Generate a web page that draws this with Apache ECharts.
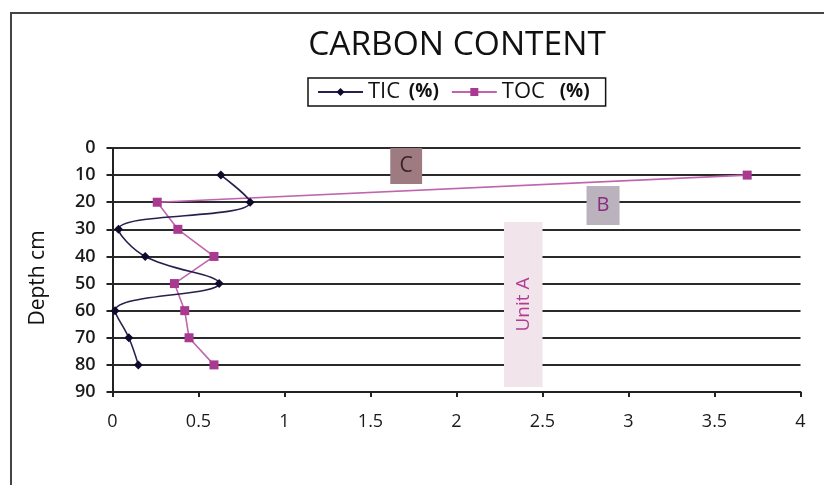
<!DOCTYPE html>
<html>
<head>
<meta charset="utf-8">
<script src="https://cdn.jsdelivr.net/npm/echarts@6/dist/echarts.min.js"></script>
<style>
html,body{margin:0;padding:0;background:#fff;}
#c{width:824px;height:485px;}
</style>
</head>
<body>
<div id="c"></div>
<script>
// Data
var depths = [10, 20, 30, 40, 50, 60, 70, 80];
var ticValues = [0.63, 0.80, 0.035, 0.19, 0.62, 0.015, 0.095, 0.15];
var tocValues = [3.69, 0.26, 0.38, 0.59, 0.36, 0.42, 0.445, 0.59];
var depthTicks = [0, 10, 20, 30, 40, 50, 60, 70, 80, 90];
var carbonTicks = [0, 0.5, 1, 1.5, 2, 2.5, 3, 3.5, 4];
var seriesNames = ['TIC (%)', 'TOC (%)'];

function pairs(vals) {
  return vals.map(function (v, i) { return [v, depths[i]]; });
}

var chart = echarts.init(document.getElementById('c'));
var font = '"Open Sans", "Noto Sans", sans-serif';

chart.setOption({
  animation: false,
  backgroundColor: '#fff',
  textStyle: { fontFamily: font },
  title: {
    text: 'CARBON CONTENT',
    left: 452,
    top: 23,
    textAlign: 'center',
    textStyle: { fontFamily: font, fontSize: 33.5, fontWeight: 'normal', color: '#111' }
  },
  legend: {
    data: seriesNames,
    left: 308,
    top: 78,
    padding: [3, 16, 3, 9],
    itemGap: 12,
    itemWidth: 45,
    itemHeight: 10,
    borderColor: '#111',
    borderWidth: 1.5,
    borderRadius: 0,
    formatter: function (name) {
      var parts = name.split(' ');
      return parts[0] + ' {' + (parts[0] === 'TOC' ? 'q' : 'p') + '|' + parts[1] + '}';
    },
    textStyle: {
      fontFamily: font, fontSize: 22, color: '#111',
      rich: {
        p: { fontFamily: font, fontSize: 19, fontWeight: 'bold', color: '#111', padding: [0, 0, 0, 3] },
        q: { fontFamily: font, fontSize: 19, fontWeight: 'bold', color: '#111', padding: [0, 0, 0, 9] }
      }
    }
  },
  grid: { left: 112.5, right: 23.5, top: 148, bottom: 93, containLabel: false },
  xAxis: {
    type: 'value',
    min: carbonTicks[0],
    max: carbonTicks[carbonTicks.length - 1],
    interval: 0.5,
    position: 'bottom',
    axisLine: { show: true, onZero: false, lineStyle: { color: '#222', width: 2 } },
    axisTick: { show: true, length: 5, lineStyle: { color: '#222', width: 2 } },
    axisLabel: { fontSize: 18, color: '#1a1a1a', margin: 21, fontFamily: font },
    splitLine: { show: false }
  },
  yAxis: {
    type: 'value',
    inverse: true,
    min: depthTicks[0],
    max: depthTicks[depthTicks.length - 1],
    interval: 10,
    name: 'Depth cm',
    nameLocation: 'middle',
    nameRotate: 90,
    nameGap: 64,
    nameTextStyle: { fontSize: 21, color: '#111', fontFamily: font, padding: [0, 16, 0, 0] },
    axisLine: { show: true, onZero: false, lineStyle: { color: '#222', width: 2 } },
    axisTick: { show: true, length: 6, lineStyle: { color: '#222', width: 2 } },
    axisLabel: { fontSize: 18, color: '#1a1a1a', margin: 17, fontWeight: 600, fontFamily: font },
    splitLine: { show: true, lineStyle: { color: '#2a2a2a', width: 2 } }
  },
  graphic: [
    {
      type: 'polyline',
      shape: { points: [[11, 490], [11, 13], [830, 13]] },
      style: { stroke: '#444', lineWidth: 2, fill: null },
      silent: true
    }
  ],
  series: [
    {
      name: seriesNames[0],
      type: 'line',
      data: pairs(ticValues),
      smooth: 0.4,
      symbol: 'diamond',
      symbolSize: 9,
      lineStyle: { color: '#25214f', width: 1.6 },
      itemStyle: { color: '#0e0b2c' },
      z: 3
    },
    {
      name: seriesNames[1],
      type: 'line',
      data: pairs(tocValues),
      smooth: false,
      symbol: 'rect',
      symbolSize: 9,
      lineStyle: { color: '#c064ae', width: 1.6 },
      itemStyle: { color: '#a93a90' },
      z: 2,
      markArea: {
        silent: true,
        data: [
          [
            { coord: [1.615, -0.2], itemStyle: { color: '#9e7b80' },
              label: { show: true, position: 'inside', formatter: 'C', fontSize: 21, color: '#3a2222', fontFamily: font } },
            { coord: [1.80, 13.3] }
          ],
          [
            { coord: [2.756, 14.0], itemStyle: { color: '#bab2bd' },
              label: { show: true, position: 'inside', formatter: 'B', fontSize: 20, color: '#8c2b80', fontFamily: font } },
            { coord: [2.948, 28.4] }
          ],
          [
            { coord: [2.276, 27.3], itemStyle: { color: '#f1e4ea' },
              label: { show: true, position: 'inside', formatter: 'Unit A', rotate: 90, fontSize: 19, color: '#b23c95', fontFamily: font } },
            { coord: [2.50, 88.2] }
          ]
        ]
      }
    }
  ]
});
</script>
</body>
</html>
